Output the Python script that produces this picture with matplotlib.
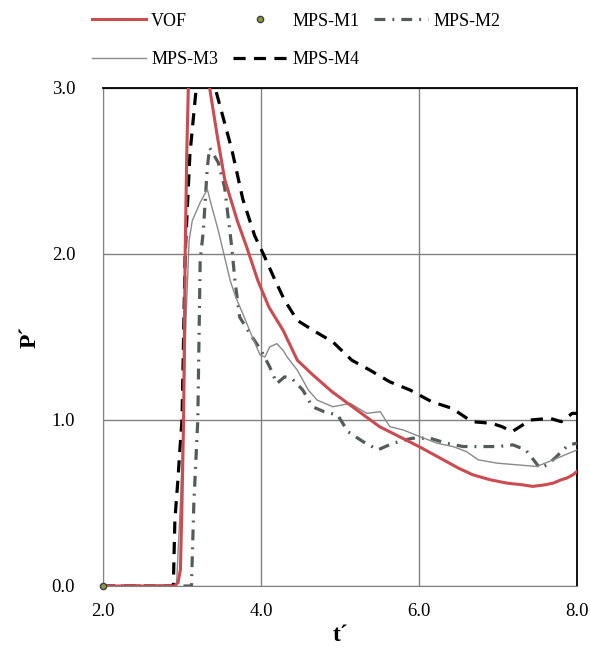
import matplotlib.pyplot as plt

plt.rcParams['font.family'] = ['Liberation Serif', 'DejaVu Serif']

# VOF
vof_t = [2.0, 2.9, 2.95, 2.98, 3.0, 3.02, 3.04, 3.06, 3.08, 3.12, 3.2, 3.28, 3.35, 3.45, 3.54,
         3.7, 3.82, 3.96, 4.1, 4.28, 4.46, 4.66, 4.9, 5.1, 5.3, 5.5, 5.75, 6.0, 6.27, 6.5, 6.68,
         6.9, 7.11, 7.3, 7.44, 7.6, 7.7, 7.8, 7.87, 7.95, 8.0]
vof_p = [0.0, 0.0, 0.02, 0.1, 0.5, 1.0, 2.0, 2.6, 3.0, 3.4, 3.6, 3.35, 3.0, 2.7, 2.45,
         2.2, 2.04, 1.84, 1.68, 1.54, 1.36, 1.27, 1.17, 1.10, 1.03, 0.96, 0.90, 0.84, 0.77, 0.71, 0.67,
         0.64, 0.62, 0.61, 0.60, 0.61, 0.62, 0.64, 0.65, 0.67, 0.69]

# MPS-M1 (single point at origin)
m1_t = [2.0]
m1_p = [0.0]

# MPS-M2
m2_t = [2.0, 3.12, 3.15, 3.2, 3.23, 3.27, 3.32, 3.35, 3.46, 3.54, 3.63, 3.67, 3.73, 3.86, 4.0,
        4.11, 4.2, 4.3, 4.39, 4.53, 4.65, 4.8, 4.97, 5.1, 5.29, 5.48, 5.67, 5.91, 6.14, 6.35,
        6.56, 6.77, 6.99, 7.19, 7.35, 7.45, 7.53, 7.62, 7.72, 7.89, 8.0]
m2_p = [0.0, 0.0, 0.5, 1.0, 1.96, 2.14, 2.52, 2.64, 2.55, 2.40, 2.04, 1.84, 1.62, 1.52, 1.42,
        1.32, 1.22, 1.26, 1.25, 1.18, 1.08, 1.05, 1.03, 0.93, 0.87, 0.82, 0.86, 0.89, 0.89, 0.86,
        0.84, 0.84, 0.84, 0.85, 0.82, 0.76, 0.71, 0.73, 0.77, 0.85, 0.86]

# MPS-M3
m3_t = [2.0, 2.93, 2.98, 3.02, 3.05, 3.09, 3.13, 3.23, 3.32, 3.38, 3.46, 3.54, 3.61, 3.68, 3.77,
        3.89, 3.99, 4.05, 4.11, 4.2, 4.28, 4.33, 4.46, 4.6, 4.71, 4.91, 5.13, 5.34, 5.51, 5.63,
        5.80, 6.01, 6.23, 6.43, 6.6, 6.75, 6.99, 7.24, 7.49, 7.70, 7.85, 8.0]
m3_p = [0.0, 0.0, 0.5, 1.0, 1.6, 2.08, 2.2, 2.31, 2.39, 2.28, 2.14, 1.98, 1.84, 1.74, 1.64,
        1.50, 1.39, 1.38, 1.44, 1.46, 1.42, 1.38, 1.30, 1.18, 1.12, 1.08, 1.10, 1.04, 1.05, 0.96,
        0.94, 0.90, 0.86, 0.84, 0.81, 0.76, 0.74, 0.73, 0.72, 0.76, 0.79, 0.82]

# MPS-M4
m4_t = [2.0, 2.89, 2.91, 2.95, 2.97, 3.0, 3.04, 3.1, 3.18, 3.3, 3.42, 3.63, 3.77, 3.92, 4.03,
        4.18, 4.30, 4.46, 4.66, 4.91, 5.15, 5.38, 5.63, 5.89, 6.16, 6.42, 6.67, 6.92, 7.05,
        7.18, 7.41, 7.66, 7.8, 7.94, 8.0]
m4_p = [0.0, 0.0, 0.4, 0.65, 0.8, 1.0, 2.0, 2.6, 3.0, 3.3, 3.0, 2.63, 2.33, 2.11, 2.0,
        1.84, 1.72, 1.60, 1.54, 1.47, 1.36, 1.30, 1.23, 1.18, 1.11, 1.07, 0.99, 0.98, 0.96,
        0.93, 1.00, 1.01, 0.99, 1.04, 1.04]

x_ticks = [2.0, 4.0, 6.0, 8.0]
y_ticks = [0.0, 1.0, 2.0, 3.0]

fig = plt.figure(figsize=(5.9, 6.51), dpi=100)
ax = fig.add_axes([103 / 590, 65 / 651, 474 / 590, 498 / 651])

ax.plot(m4_t, m4_p, color='black', lw=2.3, dashes=(3.8, 2.6), label='MPS-M4', zorder=3)
ax.plot(m2_t, m2_p, color='#555b5b', lw=2.3, dashes=(3.4, 2.2, 0.6, 2.2), label='MPS-M2', zorder=3)
ax.plot(m3_t, m3_p, color='#8a8a8a', lw=1.0, label='MPS-M3', zorder=3)
ax.plot(vof_t, vof_p, color='#cc4b50', lw=2.2, label='VOF', zorder=4)
ax.plot(m1_t, m1_p, ls='none', marker='o', ms=4.5, mfc='#8c9a3c', mec='#404040', mew=1.0,
        label='MPS-M1', zorder=5, clip_on=False)

ax.set_xlim(2.0, 8.0)
ax.set_ylim(0.0, 3.0)
ax.set_xticks(x_ticks)
ax.set_yticks(y_ticks)
ax.set_xticklabels([f'{v:.1f}' for v in x_ticks])
ax.set_yticklabels([f'{v:.1f}' for v in y_ticks])
ax.tick_params(length=0, labelsize=13.5)
ax.tick_params(axis='y', pad=20)
ax.tick_params(axis='x', pad=12)
ax.grid(True, color='#808080', lw=1.0)
for side in ['left', 'bottom']:
    ax.spines[side].set_color('#808080')
for side in ['top', 'right']:
    ax.spines[side].set_color('black')
    ax.spines[side].set_linewidth(1.3)

ax.set_xlabel('t´', fontsize=17, fontweight='bold', labelpad=4)
ax.set_ylabel('P´', fontsize=17, fontweight='bold', labelpad=8)

handles, labels = ax.get_legend_handles_labels()
lookup = dict(zip(labels, handles))
order = ['VOF', 'MPS-M3', 'MPS-M1', 'MPS-M4', 'MPS-M2']
fig.legend([lookup[k] for k in order], order, ncol=3, loc='upper left',
           bbox_to_anchor=(79 / 590, 1 - 0 / 651), frameon=False, fontsize=13,
           handlelength=3.0, handletextpad=0.3, columnspacing=0.8, labelspacing=1.2,
           borderpad=0.2)

plt.savefig('out.png')
